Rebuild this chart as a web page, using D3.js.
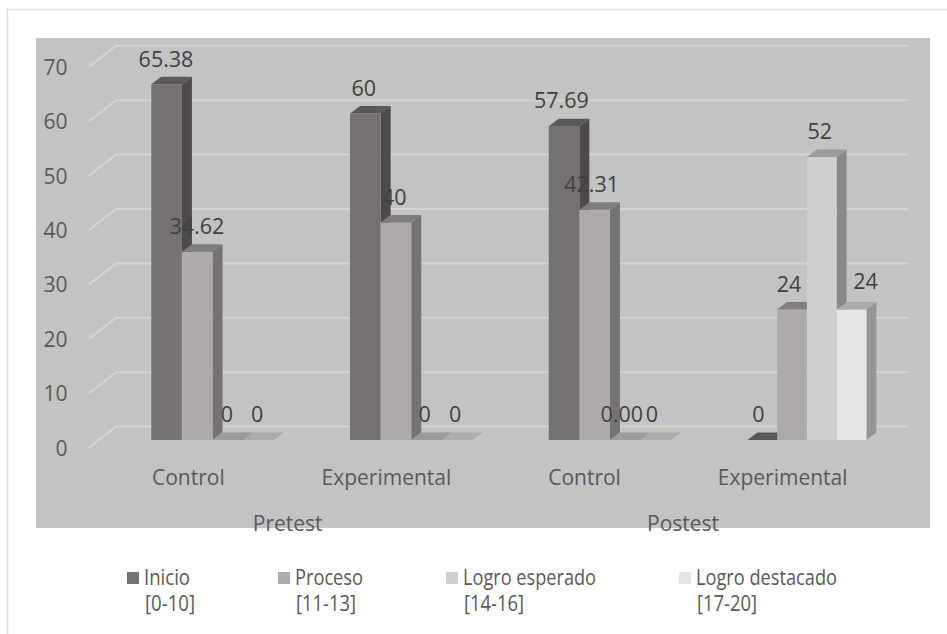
<!DOCTYPE html>
<html>
<head>
<meta charset="utf-8">
<script src="https://cdn.jsdelivr.net/npm/d3@7"></script>
<style>
  html, body { margin: 0; padding: 0; background: #fff; }
  svg { display: block; }
  text { font-family: "Open Sans", sans-serif; }
</style>
</head>
<body>
<svg id="chart" width="947" height="634"></svg>
<script>
// Results by phase and group, as percentages per achievement level
const phases = ["Pretest", "Postest"];
const groups = ["Control", "Experimental", "Control", "Experimental"];
const levels = ["Inicio", "Proceso", "Logro esperado", "Logro destacado"];
const ranges = ["[0-10]", "[11-13]", "[14-16]", "[17-20]"];
const inicio = [65.38, 60, 57.69, 0];
const proceso = [34.62, 40, 42.31, 24];
const esperado = [0, 0, 0, 52];
const destacado = [0, 0, 0, 24];
const valueLabels = [
  ["65.38", "60", "57.69", "0"],
  ["34.62", "40", "42.31", "24"],
  ["0", "0", "0.00", "52"],
  ["0", "0", "0", "24"]
];
const yTicks = [0, 10, 20, 30, 40, 50, 60, 70];

const frontColors = ["#757170", "#aeaaaa", "#d0cece", "#e7e6e6"];
const sideColors = ["#4d4a49", "#767272", "#8b8989", "#979696"];
const topColors = ["#5c5857", "#817d7d", "#9c9a9a", "#adacac"];

const svg = d3.select("#chart");
const series = [inicio, proceso, esperado, destacado];

// Chart frame and plot background
svg.append("path").attr("d", "M7.5,634V9.5H947").attr("fill", "none")
  .attr("stroke", "#e0e0e0").attr("stroke-width", 1.5);
svg.append("rect").attr("x", 36).attr("y", 38).attr("width", 894).attr("height", 490)
  .attr("fill", "#c3c3c3");

// Oblique projection: the back wall sits up and to the right of the front edge
const wallDepth = { dx: 27, dy: -21 };
const barDepth = { dx: 10, dy: -7.5 };
const barBase = 440;
const frontZero = 447.6;
const unit = 5.44;

const yFront = d3.scaleLinear().domain([0, 70]).range([frontZero, frontZero - 70 * unit]);
const yBar = d3.scaleLinear().domain([0, 70]).range([barBase, barBase - 70 * unit]);
const xGroup = d3.scaleBand().domain(d3.range(groups.length)).range([89, 883.8]);
const barOffset = 62.3;
const clusterWidths = [122.5, 122.5, 122.5, 119];
const xBarIn = gi => d3.scaleBand().domain(d3.range(levels.length)).range([0, clusterWidths[gi]]);

// Gridlines: a diagonal on the side wall, then a run along the back wall
const grid = svg.append("g").attr("fill", "none").attr("stroke", "#d4d4d4").attr("stroke-width", 2);
yTicks.forEach(t => {
  const p = d3.path();
  p.moveTo(89, yFront(t));
  p.lineTo(89 + wallDepth.dx, yFront(t) + wallDepth.dy);
  p.lineTo(908, yFront(t) + wallDepth.dy);
  grid.append("path").attr("d", p.toString());
});

// Y axis labels
svg.append("g").selectAll("text").data(yTicks).join("text")
  .attr("x", 67.5).attr("y", d => yFront(d)).attr("dy", "0.38em")
  .attr("text-anchor", "end").attr("fill", "#595959").attr("font-size", 21)
  .text(d => d);

// Bars, drawn left to right within a group so each covers the previous side face
const bars = svg.append("g");
groups.forEach((g, gi) => {
  const left = xGroup(gi) + barOffset;
  const xBar = xBarIn(gi);
  levels.forEach((l, li) => {
    const v = series[li][gi];
    const x0 = left + xBar(li), x1 = x0 + xBar.bandwidth();
    const yT = yBar(v), yB = yBar(0);
    const poly = pts => pts.map(p => p.join(",")).join(" ");
    if (v > 0) {
      bars.append("polygon").attr("fill", sideColors[li]).attr("points", poly([
        [x1, yT], [x1 + barDepth.dx, yT + barDepth.dy],
        [x1 + barDepth.dx, yB + barDepth.dy], [x1, yB]]));
      bars.append("rect").attr("fill", frontColors[li])
        .attr("x", x0).attr("y", yT).attr("width", x1 - x0).attr("height", yB - yT);
    }
    bars.append("polygon").attr("fill", topColors[li]).attr("points", poly([
      [x0, yT], [x0 + barDepth.dx, yT + barDepth.dy],
      [x1 + barDepth.dx, yT + barDepth.dy], [x1, yT]]));
  });
});

// Value labels sit above each bar; some carry a small hand-set offset from the bar centre
const labelShiftX = [
  [-0.6, -1.6, -2.6, -4],
  [-0.3, -1.6, -3, -3],
  [-1, -2, -3.5, -2],
  [-1.4, -2, -4, 14]
];
const labelShiftY = [
  [0, 0, 0, 0],
  [0, 0, 0, 0],
  [0, 0, 0, 0],
  [0, 0, 0, -3]
];
const labels = svg.append("g").attr("text-anchor", "middle").attr("fill", "#404040").attr("font-size", 21.5);
groups.forEach((g, gi) => {
  const xBar = xBarIn(gi);
  levels.forEach((l, li) => {
    labels.append("text")
      .attr("x", xGroup(gi) + barOffset + xBar(li) + xBar.bandwidth() / 2 + labelShiftX[li][gi])
      .attr("y", yBar(series[li][gi]) - 25.5 + labelShiftY[li][gi])
      .attr("dy", "0.36em")
      .text(valueLabels[li][gi]);
  });
});

// Category labels and phase labels
svg.append("g").selectAll("text").data(groups).join("text")
  .attr("x", (d, i) => xGroup(i) + xGroup.bandwidth() / 2 - 0.6 * i).attr("y", 477).attr("dy", "0.36em")
  .attr("text-anchor", "middle").attr("fill", "#595959").attr("font-size", 21)
  .text(d => d);
svg.append("g").selectAll("text").data(phases).join("text")
  .attr("x", (d, i) => xGroup(i * 2) + xGroup.bandwidth() - 2 * i).attr("y", 523).attr("dy", "0.36em")
  .attr("text-anchor", "middle").attr("fill", "#595959").attr("font-size", 21)
  .text(d => d);

// Legend with a two-line entry per level
const legendX = [127, 278, 446, 679];
const legendWidths = [46, 68, 133, 141];
const rangeWidths = [50, 60, 60, 60];
const legend = svg.append("g").selectAll("g").data(levels).join("g")
  .attr("transform", (d, i) => `translate(${legendX[i]},0)`);
legend.append("rect").attr("x", 0).attr("y", 572).attr("width", 12).attr("height", 12)
  .attr("fill", (d, i) => frontColors[i]);
legend.append("text").attr("x", 17).attr("y", 577.5).attr("dy", "0.36em")
  .attr("fill", "#595959").attr("font-size", 22)
  .attr("textLength", (d, i) => legendWidths[i]).attr("lengthAdjust", "spacingAndGlyphs")
  .text(d => d);
legend.append("text").attr("x", 18).attr("y", 603).attr("dy", "0.36em")
  .attr("fill", "#595959").attr("font-size", 22)
  .attr("textLength", (d, i) => rangeWidths[i]).attr("lengthAdjust", "spacingAndGlyphs")
  .text((d, i) => ranges[i]);
</script>
</body>
</html>
